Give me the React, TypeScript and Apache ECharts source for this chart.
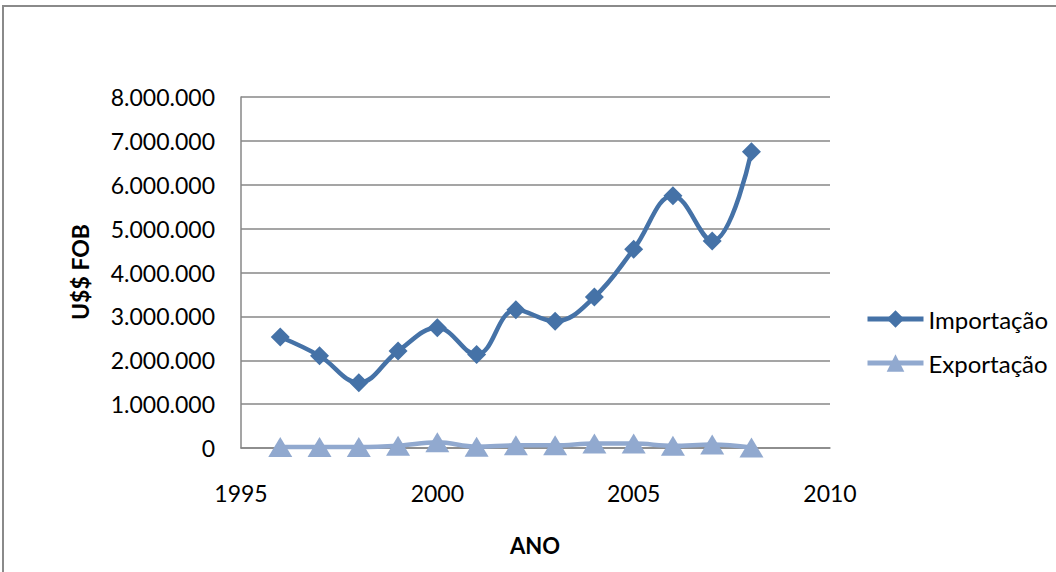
import React, { useEffect, useRef } from "react";
import * as echarts from "echarts";

// Years on the horizontal axis
const years = [1996, 1997, 1998, 1999, 2000, 2001, 2002, 2003, 2004, 2005, 2006, 2007, 2008];

// Values in US$ FOB
const importacao = [
  2530000, 2100000, 1490000, 2210000, 2740000, 2130000, 3150000, 2890000, 3440000, 4530000,
  5750000, 4720000, 6750000,
];
const exportacao = [
  20000, 20000, 20000, 50000, 130000, 30000, 60000, 60000, 100000, 100000, 50000, 80000, 10000,
];

const xTicks = { min: 1995, max: 2010, interval: 5 };
const yTicks = { min: 0, max: 8000000, interval: 1000000 };

const FONT = "Lato, 'Open Sans', sans-serif";

function formatThousands(v: number): string {
  return String(Math.round(v)).replace(/\B(?=(\d{3})+(?!\d))/g, ".");
}

export default function App() {
  const ref = useRef<HTMLDivElement>(null);

  useEffect(() => {
    if (!ref.current) return;
    const chart = echarts.init(ref.current, undefined, { renderer: "svg" });
    const gray = "#878787";
    chart.setOption({
      animation: false,
      backgroundColor: "#ffffff",
      textStyle: { fontFamily: FONT },
      grid: { left: 241, right: 226, top: 97, bottom: 124, containLabel: false },
      legend: {
        orient: "vertical",
        left: 860,
        top: 300,
        itemWidth: 56,
        itemHeight: 22,
        itemGap: 16,
        lineStyle: { width: 5 },
        textStyle: { fontSize: 24, color: "#000", fontFamily: FONT, lineHeight: 28 },
        data: ["Importação", "Exportação"],
      },
      xAxis: {
        type: "value",
        min: xTicks.min,
        max: xTicks.max,
        interval: xTicks.interval,
        axisLine: { show: true, lineStyle: { color: gray, width: 1.5 } },
        axisTick: { show: false },
        splitLine: { show: false },
        axisLabel: {
          formatter: (v: number) => String(v),
          fontSize: 23,
          color: "#000",
          margin: 33,
          fontFamily: FONT,
        },
      },
      yAxis: {
        type: "value",
        min: yTicks.min,
        max: yTicks.max,
        interval: yTicks.interval,
        axisLine: { show: true, lineStyle: { color: gray, width: 1.5 } },
        axisTick: { show: false },
        splitLine: { show: true, lineStyle: { color: gray, width: 1.5 } },
        axisLabel: {
          formatter: (v: number) => formatThousands(v),
          fontSize: 23,
          color: "#000",
          margin: 26,
          fontFamily: FONT,
        },
      },
      graphic: [
        {
          type: "rect",
          shape: { x: 3, y: 6, width: 1200, height: 700 },
          style: { fill: "none", stroke: "#8a8a8a", lineWidth: 2 },
          silent: true,
        },
        {
          type: "text",
          x: 80,
          y: 272,
          rotation: Math.PI / 2,
          style: {
            text: "U$$ FOB",
            fontSize: 23,
            fontWeight: "bold",
            fontFamily: FONT,
            fill: "#000",
            align: "center",
            verticalAlign: "middle",
          },
        },
        {
          type: "text",
          x: 535,
          y: 545,
          style: {
            text: "ANO",
            fontSize: 22,
            fontWeight: "bold",
            fontFamily: FONT,
            fill: "#000",
            align: "center",
            verticalAlign: "middle",
          },
        },
      ],
      series: [
        {
          name: "Importação",
          type: "line",
          smooth: 0.4,
          data: years.map((y, i) => [y, importacao[i]]),
          symbol: "diamond",
          symbolSize: 19,
          lineStyle: { color: "#4572A7", width: 4.5 },
          itemStyle: { color: "#4572A7" },
          z: 3,
        },
        {
          name: "Exportação",
          type: "line",
          smooth: 0.4,
          data: years.map((y, i) => [y, exportacao[i]]),
          symbol: "triangle",
          symbolSize: [24, 20],
          lineStyle: { color: "#91A9CF", width: 4.5 },
          itemStyle: { color: "#91A9CF" },
          z: 2,
        },
      ],
    });
    return () => chart.dispose();
  }, []);

  return (
    <div
      ref={ref}
      style={{ position: "absolute", left: 0, top: 0, width: 1056, height: 572 }}
    />
  );
}
